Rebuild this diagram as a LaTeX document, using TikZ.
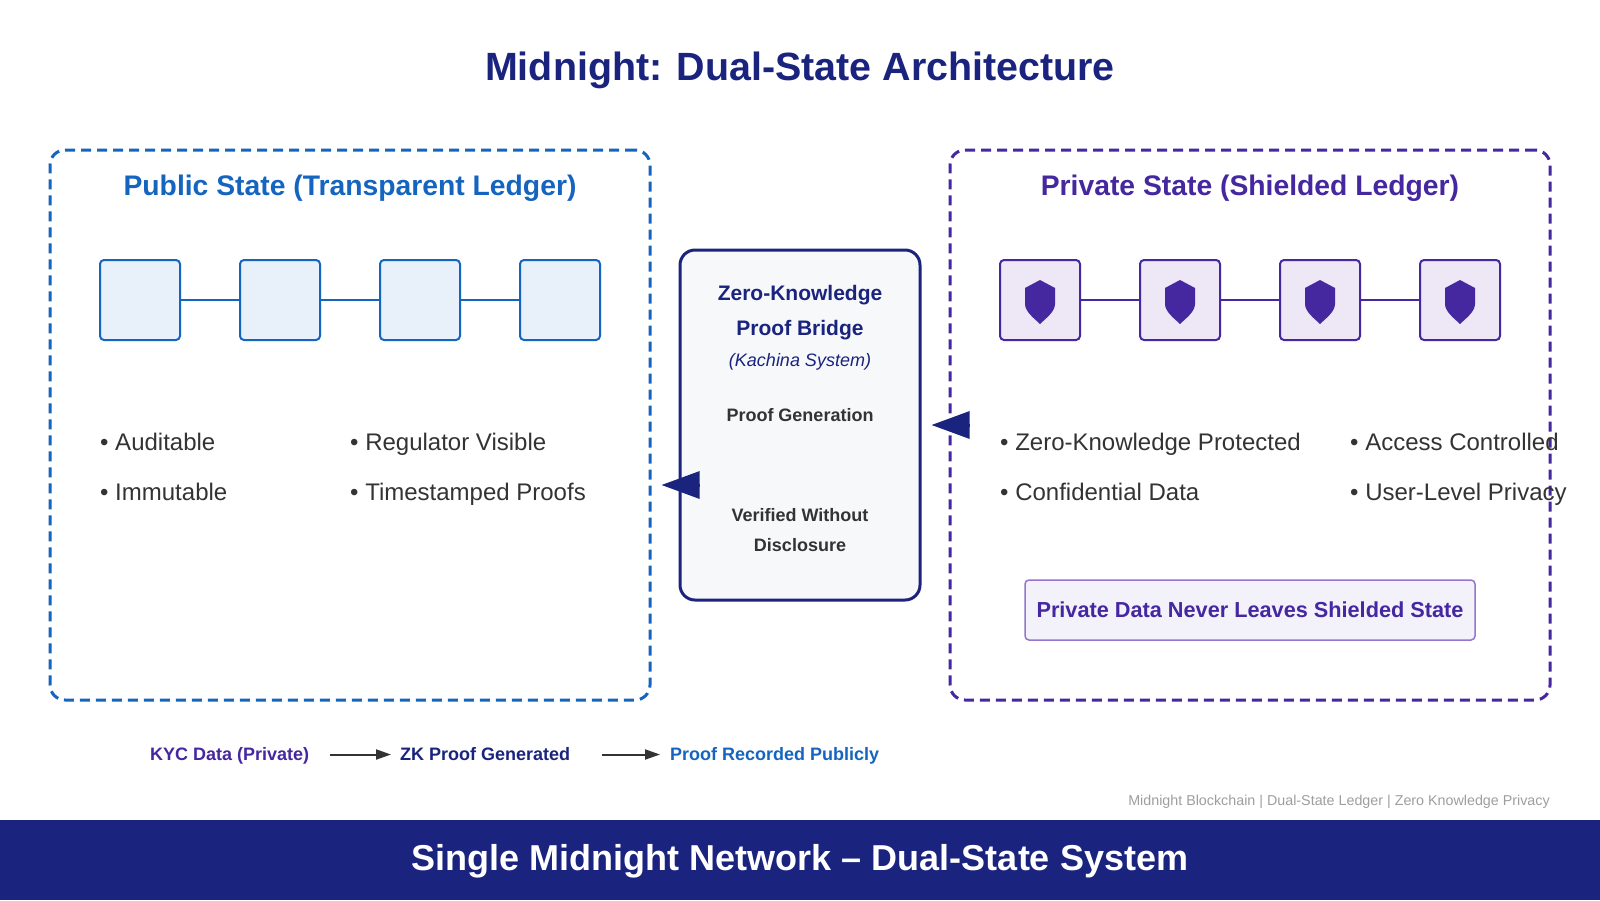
\documentclass[tikz,border=0pt]{standalone}
\usepackage{fontspec}
\setmainfont{Liberation Sans}
\usetikzlibrary{arrows.meta}
\definecolor{navy}{HTML}{1A237E}
\definecolor{pubblue}{HTML}{1565C0}
\definecolor{privpurple}{HTML}{4527A0}
\definecolor{txtgray}{HTML}{333333}
\definecolor{footgray}{HTML}{9E9E9E}
\definecolor{pubfill}{HTML}{E8F0FA}
\definecolor{privfill}{HTML}{EDE7F6}
\definecolor{bridgefill}{HTML}{F7F8FA}
\definecolor{notefill}{HTML}{F3F1FA}
\definecolor{notestroke}{HTML}{9575CD}
\begin{document}
\begin{tikzpicture}[x=1pt,y=-1pt,
  panel/.style={dash pattern=on 10pt off 6pt,line width=3pt,rounded corners=15pt,minimum width=600pt,minimum height=550pt},
  pubblk/.style={draw=pubblue,fill=pubfill,line width=2pt,rounded corners=4pt,minimum size=80pt},
  privblk/.style={draw=privpurple,fill=privfill,line width=2pt,rounded corners=4pt,minimum size=80pt},
  head/.style={anchor=base,inner sep=0pt,font=\bfseries\fontsize{28.3}{34}\selectfont},
  bul/.style={anchor=base west,inner sep=0pt,text=txtgray,font=\fontsize{24}{28}\selectfont},
  mid/.style={anchor=base,inner sep=0pt,font=\bfseries\fontsize{18}{22}\selectfont},
  flow/.style={anchor=base west,inner sep=0pt,text height=14pt,text depth=3pt,font=\bfseries\fontsize{18}{22}\selectfont},
  bigarrow/.style={navy,line width=3pt,-{Triangle[length=38pt,width=27pt]}},
  flowarrow/.style={txtgray,line width=2pt,-{Triangle[length=15pt,width=10pt]}}]
\useasboundingbox (0,0) rectangle (1600,900);
\fill[white] (0,0) rectangle (1600,900);
\node[head,text=navy,font=\bfseries\fontsize{39.4}{48}\selectfont] (title) at (800,80) {Midnight: Dual-State Architecture};

\node[panel,draw=pubblue] (pub) at (350,425) {};
\node[panel,draw=privpurple] (priv) at (1250,425) {};
\node[head,text=pubblue] (pubhead) at (350,195) {Public State (Transparent Ledger)};
\node[head,text=privpurple] (privhead) at (1250,195) {Private State (Shielded Ledger)};

\node[pubblk] (b1) at (140,300) {};
\node[pubblk] (b2) at (280,300) {};
\node[pubblk] (b3) at (420,300) {};
\node[pubblk] (b4) at (560,300) {};
\draw[pubblue,line width=2pt] (b1) -- (b2) (b2) -- (b3) (b3) -- (b4);

\node[privblk] (s1) at (1040,300) {};
\node[privblk] (s2) at (1180,300) {};
\node[privblk] (s3) at (1320,300) {};
\node[privblk] (s4) at (1460,300) {};
\draw[privpurple,line width=2pt] (s1) -- (s2) (s2) -- (s3) (s3) -- (s4);
\foreach \s in {s1,s2,s3,s4}
  \fill[privpurple,shift={(\s)}] (0,-20) -- (15,-12) -- (15,4) .. controls (15,12) and (5,19) .. (0,24)
    .. controls (-5,19) and (-15,12) .. (-15,4) -- (-15,-12) -- cycle;

\node[bul] (pa) at (100,450) {• Auditable};
\node[bul] (pi) at (100,500) {• Immutable};
\node[bul] (pr) at (350,450) {• Regulator Visible};
\node[bul] (pt) at (350,500) {• Timestamped Proofs};
\node[bul] (qz) at (1000,450) {• Zero-Knowledge Protected};
\node[bul] (qc) at (1000,500) {• Confidential Data};
\node[bul] (qa) at (1350,450) {• Access Controlled};
\node[bul] (qu) at (1350,500) {• User-Level Privacy};

\node[draw=notestroke,fill=notefill,line width=1.5pt,rounded corners=4pt,minimum width=450pt,minimum height=60pt,
  text=privpurple,font=\bfseries\fontsize{21.7}{26}\selectfont] (note) at (1250,610) {Private Data Never Leaves Shielded State};

\node[draw=navy,fill=bridgefill,line width=3pt,rounded corners=15pt,minimum width=240pt,minimum height=350pt] (bridge) at (800,425) {};
\node[mid,text=navy,font=\bfseries\fontsize{21}{25}\selectfont] (zk1) at (800,300) {Zero-Knowledge};
\node[mid,text=navy,font=\bfseries\fontsize{21}{25}\selectfont] (zk2) at (800,335) {Proof Bridge};
\node[mid,text=navy,font=\itshape\fontsize{18}{22}\selectfont] (kach) at (800,366) {(Kachina System)};
\node[mid,text=txtgray] (gen) at (800,421) {Proof Generation};
\node[mid,text=txtgray] (ver1) at (800,521) {Verified Without};
\node[mid,text=txtgray] (ver2) at (800,551) {Disclosure};

\draw[bigarrow] ([xshift=20pt,yshift=-60pt]bridge.west) -- ([xshift=10pt,yshift=-60pt]pub.east);
\draw[bigarrow] ([xshift=20pt]priv.west) -- ([xshift=10pt]bridge.east);

\node[flow,text=privpurple] (kyc) at (150,760) {KYC Data (Private)};
\node[flow,text=navy] (zkp) at (400,760) {ZK Proof Generated};
\node[flow,text=pubblue] (rec) at (670,760) {Proof Recorded Publicly};
\draw[flowarrow,shorten <=21pt,shorten >=9pt] (kyc) -- (zkp);
\draw[flowarrow,shorten <=32pt,shorten >=10pt] (zkp) -- (rec);

\node[anchor=base east,inner sep=0pt,text=footgray,font=\fontsize{14.3}{17}\selectfont] (foot) at (1550,805) {Midnight Blockchain | Dual-State Ledger | Zero Knowledge Privacy};
\fill[navy] (0,820) rectangle (1600,900);
\node[anchor=base,inner sep=0pt,text=white,font=\bfseries\fontsize{36}{43}\selectfont] (banner) at (800,870) {Single Midnight Network – Dual-State System};
\end{tikzpicture}
\end{document}
